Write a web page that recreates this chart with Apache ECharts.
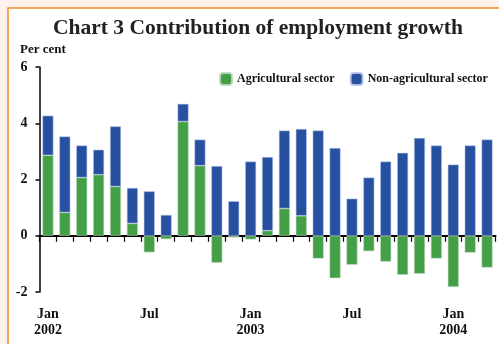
<!DOCTYPE html>
<html>
<head>
<meta charset="utf-8">
<style>
html,body{margin:0;padding:0;background:#fdf3ec;}
#c{width:499px;height:344px;}
</style>
<script src="https://cdn.jsdelivr.net/npm/echarts@6/dist/echarts.min.js"></script>
</head>
<body>
<div id="c"></div>
<script>
var months = ['Jan\n2002','Feb','Mar','Apr','May','Jun','Jul\n','Aug','Sep','Oct','Nov','Dec',
  'Jan\n2003','Feb','Mar','Apr','May','Jun','Jul\n','Aug','Sep','Oct','Nov','Dec',
  'Jan\n2004','Feb','Mar'];
var agricultural = [2.86,0.83,2.07,2.17,1.75,0.44,-0.59,-0.12,4.06,2.49,-0.96,-0.06,
  -0.13,0.18,0.97,0.71,-0.81,-1.51,-1.03,-0.55,-0.92,-1.39,-1.35,-0.81,-1.82,-0.60,-1.13];
var nonAgricultural = [1.41,2.70,1.14,0.89,2.14,1.26,1.58,0.74,0.63,0.93,2.48,1.23,
  2.64,2.62,2.77,3.09,3.74,3.12,1.32,2.07,2.64,2.95,3.48,3.21,2.53,3.21,3.42];
var yTicks = [-2,0,2,4,6];
var labelIdx = [0,6,12,18,24];

var chart = echarts.init(document.getElementById('c'));
var serif = 'Liberation Serif';
chart.setOption({
  animation:false,
  backgroundColor:'transparent',
  graphic:[
    {type:'rect', shape:{x:8,y:8,width:520,height:360}, style:{fill:'#ffffff',stroke:'#f08a24',lineWidth:1.5}, z:-10},
    {type:'text', left:20, top:43, style:{text:'Per cent', font:'bold 13px "Liberation Serif"', fill:'#111'}}
  ],
  title:{text:'Chart 3 Contribution of employment growth', left:48, top:12,
    textStyle:{fontFamily:serif,fontWeight:'bold',fontSize:21.5,color:'#222'}},
  legend:{left:219, top:72, padding:0, width:300, orient:'horizontal', itemWidth:12, itemHeight:12, itemGap:15,
    textStyle:{fontFamily:serif,fontWeight:'bold',fontSize:12,color:'#111'},
    data:['Agricultural sector','Non-agricultural sector']},
  grid:{left:39.5, right:3.5, top:67, bottom:52, outerBoundsMode:'none', containLabel:false},
  xAxis:[{type:'category', data:months,
    axisLine:{onZero:true, lineStyle:{color:'#000',width:2}},
    axisTick:{show:true, interval:0, length:6, lineStyle:{color:'#000',width:1.2}},
    axisLabel:{show:false}},
   {type:'category', data:months, position:'bottom',
    axisLine:{show:false, onZero:false}, axisTick:{show:false},
    axisLabel:{margin:14, interval:function(i){return labelIdx.indexOf(i)>=0;},
      fontFamily:serif, fontWeight:'bold', fontSize:14, color:'#111', lineHeight:16}}],
  yAxis:{type:'value', min:-2, max:6, interval:2,
    axisLine:{show:true, lineStyle:{color:'#000',width:1.5}},
    axisTick:{show:true, length:4, lineStyle:{color:'#000',width:1.5}},
    splitLine:{show:false},
    axisLabel:{margin:12, fontFamily:serif, fontWeight:'bold', fontSize:14, color:'#111'}},
  series:[
    {name:'Agricultural sector', type:'bar', stack:'t', data:agricultural, barWidth:11,
      itemStyle:{color:'#43a047', borderColor:'rgba(190,215,190,0.9)', borderWidth:0.6}},
    {name:'Non-agricultural sector', type:'bar', stack:'t', data:nonAgricultural, barWidth:11,
      itemStyle:{color:'#2750a0', borderColor:'rgba(185,200,235,0.9)', borderWidth:0.6}}
  ]
});
</script>
</body>
</html>
